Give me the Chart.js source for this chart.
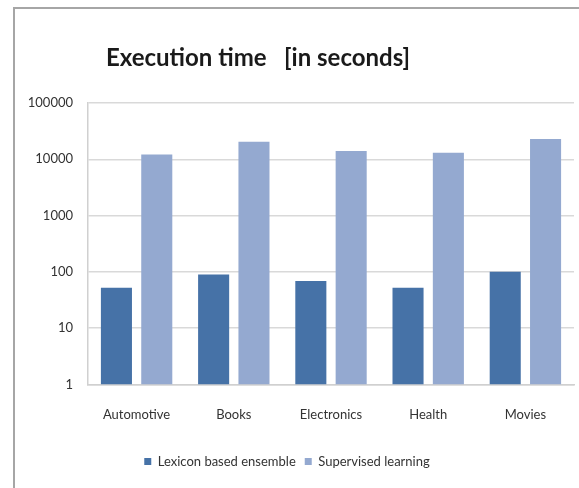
<!DOCTYPE html>
<html>
<head>
<meta charset="utf-8">
<script src="https://cdn.jsdelivr.net/npm/chart.js@4"></script>
<style>
  html, body { margin: 0; padding: 0; background: #fff; overflow: hidden; }
  #frame {
    position: absolute; left: 13px; top: 7px; width: 600px; height: 520px;
    border-left: 2px solid #a6a6a6; border-top: 2px solid #a6a6a6;
  }
  #wrap { position: absolute; left: 0; top: 0; width: 579px; height: 488px; }
</style>
</head>
<body>
<div id="frame"></div>
<div id="wrap"><canvas id="chart"></canvas></div>
<script>
const categories = ["Automotive", "Books", "Electronics", "Health", "Movies"];
const lexiconTimes = [52, 90, 69, 52, 100];
const supervisedTimes = [12200, 20500, 14000, 13000, 23000];
const tickValues = [1, 10, 100, 1000, 10000, 100000];
const chartTitle = "Execution time   [in seconds]";

const FONT = "Lato, 'Open Sans', sans-serif";

// the title in the original sits left of the canvas centre, so draw it by hand
const titlePlugin = {
  id: "offsetTitle",
  afterDraw(chart) {
    const c = chart.ctx;
    c.save();
    c.font = "bold 24px " + FONT;
    c.fillStyle = "#1a1a1a";
    c.textAlign = "center";
    c.textBaseline = "middle";
    c.fillText(chartTitle, 258, 58);
    c.restore();
  }
};

const ctx = document.getElementById("chart").getContext("2d");
new Chart(ctx, {
  type: "bar",
  data: {
    labels: categories,
    datasets: [
      { label: "Lexicon based ensemble", data: lexiconTimes, backgroundColor: "#4672a7" },
      { label: "Supervised learning", data: supervisedTimes, backgroundColor: "#94a9d0" }
    ]
  },
  plugins: [titlePlugin],
  options: {
    responsive: true,
    maintainAspectRatio: false,
    animation: false,
    layout: { padding: { left: 0, right: 5, top: 103, bottom: 10 } },
    datasets: { bar: { categoryPercentage: 0.83, barPercentage: 0.77 } },
    plugins: {
      title: { display: false },
      legend: {
        position: "bottom",
        labels: {
          color: "#333",
          font: { family: FONT, size: 13 },
          usePointStyle: true,
          pointStyle: "rect",
          boxWidth: 7,
          boxHeight: 7,
          padding: 9
        }
      },
      tooltip: { enabled: false }
    },
    scales: {
      x: {
        grid: { display: false, drawTicks: false },
        border: { display: true, color: "#d0d0d0", width: 1.5 },
        ticks: { color: "#333", font: { family: FONT, size: 13 }, padding: 23 }
      },
      y: {
        type: "logarithmic",
        min: 1,
        max: 100000,
        afterBuildTicks: (scale) => {
          scale.ticks = tickValues.map(v => ({ value: v }));
        },
        afterFit: (scale) => { scale.width = 88; },
        grid: { color: "#d9d9d9", lineWidth: 1.5, drawTicks: false },
        border: { display: true, color: "#d0d0d0", width: 1.5 },
        ticks: {
          color: "#333",
          font: { family: FONT, size: 13 },
          padding: 15,
          callback: (v) => String(v)
        }
      }
    }
  }
});
</script>
</body>
</html>
